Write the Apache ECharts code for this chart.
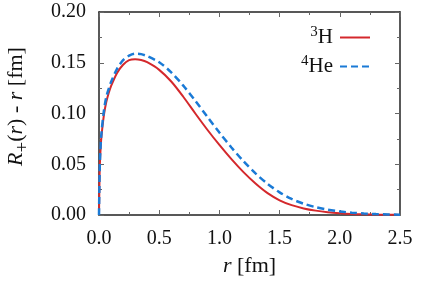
<!DOCTYPE html>
<html>
<head>
<meta charset="utf-8">
<script src="https://cdn.jsdelivr.net/npm/echarts@6/dist/echarts.min.js"></script>
<style>html,body{margin:0;padding:0;background:#fff;}#c{width:425px;height:282px;}</style>
</head>
<body>
<div id="c"></div>
<script>
const rVals = [0, 0.005, 0.01, 0.02, 0.04, 0.06, 0.08, 0.1, 0.15, 0.2, 0.25, 0.3, 0.35, 0.4, 0.5, 0.6, 0.7, 0.8, 0.9, 1.0, 1.1, 1.2, 1.3, 1.4, 1.5, 1.6, 1.7, 1.8, 1.9, 2.0, 2.1, 2.2, 2.3, 2.4, 2.5];
const h3Vals = [0, 0.04, 0.058, 0.077, 0.098, 0.111, 0.120, 0.127, 0.140, 0.148, 0.1525, 0.1535, 0.1527, 0.1505, 0.1430, 0.1315, 0.1165, 0.1000, 0.0840, 0.0690, 0.0550, 0.0422, 0.0310, 0.0215, 0.0145, 0.0097, 0.0065, 0.0043, 0.0028, 0.0018, 0.0011, 0.0007, 0.0004, 0.0002, 0.0001];
const he4Vals = [0, 0.04, 0.060, 0.080, 0.102, 0.116, 0.124, 0.131, 0.144, 0.1525, 0.157, 0.159, 0.1585, 0.1565, 0.1505, 0.1405, 0.1275, 0.1125, 0.0967, 0.0812, 0.0665, 0.0530, 0.0410, 0.0307, 0.0223, 0.0158, 0.0111, 0.0077, 0.0052, 0.0035, 0.0023, 0.0015, 0.0009, 0.0005, 0.0003];
const seriesNames = ['3H', '4He'];
const legendLabels = {'3H': '{sup|3}{t|H}', '4He': '{sup|4}{t|He}'};

const FONT = '"Liberation Serif", "DejaVu Serif", serif';
const AX = '#222';
const TK = '#666';

const chart = echarts.init(document.getElementById('c'), null, {renderer: 'canvas'});
const baseX = {
  type: 'value', min: 0, max: 2.5, interval: 0.5,
  splitLine: {show: false},
  axisLine: {show: true, onZero: false, lineStyle: {color: AX, width: 1.5}},
  axisTick: {show: true, inside: true, length: 5, lineStyle: {color: TK, width: 1}},
  minorTick: {show: true, splitNumber: 2, length: 3, lineStyle: {color: TK, width: 1}},
};
const baseY = {
  type: 'value', min: 0, max: 0.2, interval: 0.05,
  splitLine: {show: false},
  axisLine: {show: true, onZero: false, lineStyle: {color: AX, width: 1.5}},
  axisTick: {show: true, inside: true, length: 5, lineStyle: {color: TK, width: 1}},
  minorTick: {show: true, splitNumber: 2, length: 3, lineStyle: {color: TK, width: 1}},
};
chart.setOption({
  animation: false,
  backgroundColor: '#fff',
  grid: {left: 99, right: 25, top: 12, bottom: 67, containLabel: false, outerBoundsMode: 'none'},
  xAxis: [
    Object.assign({}, baseX, {
      position: 'bottom',
      axisLabel: {show: true, margin: 14, fontFamily: FONT, fontSize: 20, color: '#111', formatter: v => v.toFixed(1)},
      name: '{i|r} [fm]', nameLocation: 'middle', nameGap: 40,
      nameTextStyle: {fontFamily: FONT, fontSize: 22, color: '#111',
        rich: {i: {fontFamily: FONT, fontStyle: 'italic', fontSize: 22, color: '#111'}}}
    }),
    Object.assign({}, baseX, {position: 'top', axisLabel: {show: false}})
  ],
  yAxis: [
    Object.assign({}, baseY, {
      position: 'left',
      axisLabel: {show: true, margin: 13, fontFamily: FONT, fontSize: 20, color: '#111', formatter: v => v.toFixed(2)},
      name: '{i|R}{s|+}{n|(}{i|r}{n|) - }{i|r}{n| [fm]}', nameLocation: 'middle', nameGap: 71, nameRotate: 90,
      nameTextStyle: {fontFamily: FONT, fontSize: 22, color: '#111', padding: [0, 0, 0, 14],
        rich: {
          i: {fontFamily: FONT, fontStyle: 'italic', fontSize: 22, color: '#111', lineHeight: 24},
          n: {fontFamily: FONT, fontSize: 22, color: '#111', lineHeight: 24},
          s: {fontFamily: FONT, fontSize: 19, color: '#111', padding: [14, 0, 0, 0], lineHeight: 24}
        }}
    }),
    Object.assign({}, baseY, {position: 'right', axisLabel: {show: false}})
  ],
  legend: {
    orient: 'vertical', right: 49, top: 20, align: 'right',
    itemWidth: 30, itemHeight: 14, itemGap: 4,
    data: seriesNames,
    formatter: n => legendLabels[n],
    itemStyle: {opacity: 0},
    textStyle: {fontFamily: FONT, fontSize: 21, color: '#111', padding: [0, 2, 0, 0],
      rich: {
        t: {fontFamily: FONT, fontSize: 21, color: '#111', lineHeight: 22},
        sup: {fontFamily: FONT, fontSize: 15, color: '#111', padding: [0, 0, 10, 0], lineHeight: 22}
      }}
  },
  series: [
    {name: seriesNames[0], type: 'line', xAxisIndex: 0, yAxisIndex: 0, showSymbol: false, symbol: 'none', smooth: 0.3,
     data: rVals.map((r, i) => [r, h3Vals[i]]),
     lineStyle: {color: '#d4282c', width: 2}, itemStyle: {color: '#d4282c'}},
    {name: seriesNames[1], type: 'line', xAxisIndex: 0, yAxisIndex: 0, showSymbol: false, symbol: 'none', smooth: 0.3,
     data: rVals.map((r, i) => [r, he4Vals[i]]),
     lineStyle: {color: '#1a7ad6', width: 2.5, type: [7, 4]}, itemStyle: {color: '#1a7ad6'}}
  ]
});
</script>
</body>
</html>
